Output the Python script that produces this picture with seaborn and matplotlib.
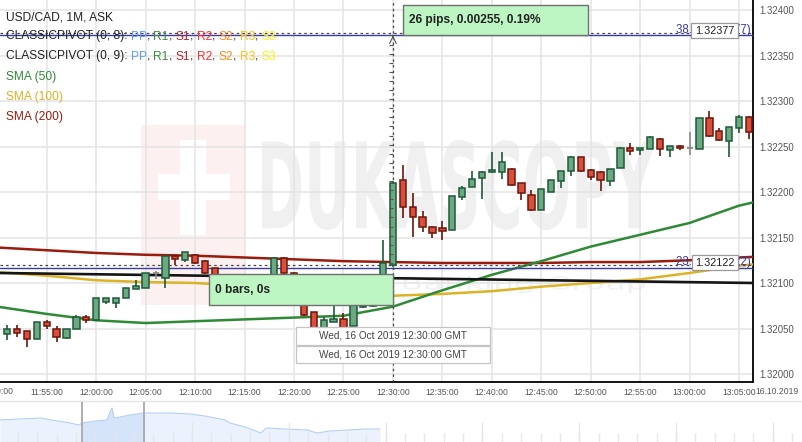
import numpy as np
import pandas as pd
import matplotlib
matplotlib.use("Agg")
import matplotlib.pyplot as plt
import seaborn as sns
from matplotlib.patches import Rectangle, PathPatch
from matplotlib.textpath import TextPath
from matplotlib.font_manager import FontProperties
from matplotlib.transforms import Affine2D

# ---------------- data ----------------
minutes = list(range(-9, 67))  # minutes relative to 12:00 GMT
opens = [1.32044, 1.32050, 1.32047, 1.32038, 1.32057, 1.32049, 1.32040, 1.32049, 1.32063,
         1.32059, 1.32079, 1.32078, 1.32083, 1.32093, 1.32095, 1.32111, 1.32105, 1.32130, 1.32125,
         1.32131, 1.32124, 1.32116, 1.32101, 1.32090, 1.32083, 1.32089, 1.32096, 1.32103, 1.32128,
         1.32111, 1.32081, 1.32068, 1.32048, 1.32057, 1.32060, 1.32053, 1.32074, 1.32075, 1.32090,
         1.32120, 1.32213, 1.32184, 1.32173, 1.32161, 1.32160, 1.32158, 1.32195, 1.32206, 1.32215,
         1.32222, 1.32222, 1.32225, 1.32210, 1.32197, 1.32180, 1.32200, 1.32212, 1.32223, 1.32238,
         1.32224, 1.32222, 1.32212, 1.32226, 1.32248, 1.32246, 1.32247, 1.32258, 1.32246, 1.32251,
         1.32248, 1.32247, 1.32281, 1.32267, 1.32256, 1.32270, 1.32282]
highs = [1.32054, 1.32054, 1.32047, 1.32057, 1.32059, 1.32053, 1.32050, 1.32065, 1.32065,
         1.32083, 1.32083, 1.32084, 1.32094, 1.32103, 1.32111, 1.32113, 1.32130, 1.32131, 1.32134,
         1.32132, 1.32125, 1.32117, 1.32104, 1.32093, 1.32092, 1.32098, 1.32106, 1.32129, 1.32129,
         1.32112, 1.32082, 1.32068, 1.32063, 1.32078, 1.32067, 1.32082, 1.32078, 1.32092, 1.32147,
         1.32212, 1.32230, 1.32199, 1.32179, 1.32163, 1.32168, 1.32196, 1.32207, 1.32223, 1.32223,
         1.32244, 1.32244, 1.32226, 1.32210, 1.32202, 1.32203, 1.32213, 1.32223, 1.32240, 1.32239,
         1.32225, 1.32223, 1.32225, 1.32249, 1.32254, 1.32248, 1.32262, 1.32259, 1.32251, 1.32252,
         1.32266, 1.32281, 1.32289, 1.32270, 1.32271, 1.32285, 1.32283]
lows = [1.32037, 1.32041, 1.32030, 1.32038, 1.32049, 1.32035, 1.32039, 1.32049, 1.32056,
        1.32059, 1.32077, 1.32072, 1.32083, 1.32093, 1.32094, 1.32104, 1.32095, 1.32120, 1.32123,
        1.32121, 1.32110, 1.32099, 1.32088, 1.32080, 1.32079, 1.32086, 1.32092, 1.32101, 1.32110,
        1.32080, 1.32064, 1.32050, 1.32048, 1.32057, 1.32050, 1.32053, 1.32072, 1.32074, 1.32089,
        1.32118, 1.32171, 1.32151, 1.32156, 1.32149, 1.32147, 1.32158, 1.32191, 1.32206, 1.32192,
        1.32221, 1.32214, 1.32207, 1.32191, 1.32179, 1.32180, 1.32200, 1.32204, 1.32218, 1.32222,
        1.32213, 1.32201, 1.32207, 1.32226, 1.32241, 1.32241, 1.32247, 1.32240, 1.32238, 1.32246,
        1.32241, 1.32247, 1.32260, 1.32256, 1.32238, 1.32265, 1.32258]
closes = [1.32050, 1.32045, 1.32038, 1.32057, 1.32053, 1.32041, 1.32050, 1.32063, 1.32059,
          1.32083, 1.32083, 1.32084, 1.32094, 1.32097, 1.32111, 1.32111, 1.32130, 1.32126, 1.32134,
          1.32122, 1.32111, 1.32101, 1.32090, 1.32083, 1.32089, 1.32096, 1.32102, 1.32128, 1.32111,
          1.32082, 1.32065, 1.32050, 1.32059, 1.32060, 1.32050, 1.32080, 1.32075, 1.32090, 1.32122,
          1.32210, 1.32183, 1.32172, 1.32161, 1.32155, 1.32157, 1.32196, 1.32204, 1.32214, 1.32222,
          1.32224, 1.32233, 1.32208, 1.32199, 1.32180, 1.32203, 1.32213, 1.32223, 1.32238, 1.32223,
          1.32217, 1.32213, 1.32225, 1.32248, 1.32245, 1.32248, 1.32260, 1.32247, 1.32251, 1.32248,
          1.32248, 1.32281, 1.32262, 1.32257, 1.32271, 1.32282, 1.32266]

sma_minutes = [-10, -5, 0, 5, 10, 15, 20, 25, 30, 35, 40, 45, 50, 55, 60, 65, 67]
sma50 = [1.32074, 1.32066, 1.32059, 1.32056, 1.32058, 1.32060, 1.32062, 1.32064, 1.32074,
         1.32092, 1.32109, 1.32124, 1.32140, 1.32153, 1.32166, 1.32185, 1.32190]
sma100 = [1.32112, 1.32108, 1.32103, 1.32101, 1.32100, 1.32097, 1.32093, 1.32090, 1.32086,
          1.32088, 1.32091, 1.32096, 1.32100, 1.32104, 1.32111, 1.32119, 1.32121]
sma200 = [1.32139, 1.32136, 1.32133, 1.32131, 1.32130, 1.32128, 1.32126, 1.32124, 1.32123,
          1.32122, 1.32122, 1.32122, 1.32123, 1.32123, 1.32125, 1.32128, 1.32129]
trend_minutes = [-9.8, 66.5]
trend_values = [1.32111, 1.32100]

measure_low, measure_high = 1.32122, 1.32377
cursor_minute = 30
fib_levels = [1.32373, 1.32117]
cross_levels = [1.32375, 1.32120]

y_ticks = [1.32000, 1.32050, 1.32100, 1.32150, 1.32200, 1.32250, 1.32300, 1.32350, 1.32400]
x_tick_minutes = [-10, -5, 0, 5, 10, 15, 20, 25, 30, 35, 40, 45, 50, 55, 60, 65]
x_tick_labels = ["11:50:00", "11:55:00", "12:00:00", "12:05:00", "12:10:00", "12:15:00", "12:20:00",
                 "12:25:00", "12:30:00", "12:35:00", "12:40:00", "12:45:00", "12:50:00",
                 "12:55:00", "13:00:00", "13:05:00"]

nav_x = [0, 20, 41, 51, 65, 79, 82, 95, 107, 110, 112, 114, 120, 130, 144, 148, 170, 190, 205,
         225, 230, 245, 261, 266, 285, 307, 317, 330, 348, 365, 380]
nav_level = [22, 23, 24, 22, 20, 17, 19, 21, 22, 30, 34, 24, 25, 27, 29, 29, 29, 28, 26,
             22, 19, 15, 9, 14, 13, 12, 9, 11, 12, 13, 13]

# ---------------- styling ----------------
sns.set_theme(style="white")
plt.rcParams['font.family'] = ['Liberation Sans', 'DejaVu Sans']

W, H = 803, 442
fig = plt.figure(figsize=(W / 100, H / 100), dpi=100)
fig.patch.set_facecolor('white')


def fx(px):
    return px / W


def fy(py):
    return 1 - py / H


ax = fig.add_axes([0, fy(382), fx(753), 382 / H])
ax.set_facecolor('white')
ax.set_xlim(-96.2 / 9.89, (753 - 96.2) / 9.89)
ax.set_ylim(1.32400 - 372 / 91000, 1.32400 + 10 / 91000)

for s in ['left', 'top']:
    ax.spines[s].set_visible(False)
for s in ['right', 'bottom']:
    ax.spines[s].set_color('black')
    ax.spines[s].set_linewidth(1.3)

ax.set_axisbelow(True)
ax.grid(True, color='#e4e4e4', lw=1.1)
ax.yaxis.tick_right()
ax.set_yticks(y_ticks)
ax.set_yticklabels([f"{v:.5f}" for v in y_ticks])
ax.tick_params(axis='y', length=0, pad=4.3, labelsize=6.9, labelcolor='#555555')
ax.set_xticks(x_tick_minutes[1:])
ax.set_xticklabels(x_tick_labels[1:])
ax.tick_params(axis='x', length=0, pad=4.0, labelsize=6.2, labelcolor='#555555')
ax.set_xlabel('')
ax.set_ylabel('')
ax.text(x_tick_minutes[0], -9 / 382, x_tick_labels[0], transform=ax.get_xaxis_transform(),
        ha='center', va='center', fontsize=6.2, color='#555555', clip_on=False)
fig.text(fx(755), fy(391), "16.10.2019", ha='left', va='center', fontsize=6.2, color='#555555')

# ---------------- watermark ----------------
ax.add_patch(Rectangle((fx(141), fy(305)), fx(104), 180 / H, transform=fig.transFigure,
                       facecolor='#fdf0f0', edgecolor='none', zorder=0.1))
ax.add_patch(Rectangle((fx(180), fy(235)), fx(26), 95 / H, transform=fig.transFigure,
                       facecolor='white', edgecolor='none', zorder=0.15))
ax.add_patch(Rectangle((fx(158), fy(200)), fx(72), 26 / H, transform=fig.transFigure,
                       facecolor='white', edgecolor='none', zorder=0.15))
fp = FontProperties(family='DejaVu Sans', weight='bold')
tp = TextPath((0, 0), "DUKASCOPY", size=100, prop=fp)
bb = tp.get_extents()
x0, x1, yb, yt = fx(262), fx(655), fy(230), fy(140)
tr = Affine2D().translate(-bb.x0, -bb.y0).scale((x1 - x0) / bb.width, (yt - yb) / bb.height) \
    .translate(x0, yb) + fig.transFigure
ax.add_patch(PathPatch(tp, transform=tr, facecolor='#f0f0f0', edgecolor='none', zorder=0.2))
tp2 = TextPath((0, 0), "Swiss Banking Group", size=100, prop=FontProperties(family='DejaVu Sans'))
bb2 = tp2.get_extents()
x0, x1, yb, yt = fx(300), fx(645), fy(293), fy(276)
tr2 = Affine2D().translate(-bb2.x0, -bb2.y0).scale((x1 - x0) / bb2.width, (yt - yb) / bb2.height) \
    .translate(x0, yb) + fig.transFigure
ax.add_patch(PathPatch(tp2, transform=tr2, facecolor='#f1f1f1', edgecolor='none', zorder=0.2))

# ---------------- indicator lines ----------------
sns.lineplot(x=sma_minutes, y=sma200, ax=ax, color='#9a1c0e', lw=1.8, zorder=3, legend=False)
sns.lineplot(x=sma_minutes, y=sma100, ax=ax, color='#dcb226', lw=1.8, zorder=3, legend=False)
sns.lineplot(x=sma_minutes, y=sma50, ax=ax, color='#2f8a35', lw=1.8, zorder=3, legend=False)
sns.lineplot(x=trend_minutes, y=trend_values, ax=ax, color='#151515', lw=1.9, zorder=3.2,
             legend=False)
for v in fib_levels:
    ax.axhline(v, color='#3a3aa8', lw=1.0, zorder=3.5)
for v in cross_levels:
    ax.axhline(v, color='#444444', lw=0.9, ls=(0, (2, 2.5)), zorder=3.6)
ax.axvline(cursor_minute, color='#444444', lw=0.9, ls=(0, (2, 2.5)), zorder=3.6)

# ---------------- candles ----------------
df = pd.DataFrame({'minute': minutes, 'open': opens, 'high': highs, 'low': lows, 'close': closes})
up = df[df.close > df.open]
dn = df[df.close < df.open]
dj = df[df.close == df.open]
up_fill, up_edge = '#6ba983', '#1f5a38'
dn_fill, dn_edge = '#d8503b', '#6e150b'
bw = 0.64
ax.vlines(up.minute, up.low, up.high, color=up_edge, lw=1.2, zorder=5)
ax.vlines(dn.minute, dn.low, dn.high, color=dn_edge, lw=1.2, zorder=5)
ax.bar(up.minute, up.close - up.open, bottom=up.open, width=bw, color=up_fill,
       edgecolor=up_edge, lw=1.1, zorder=6)
ax.bar(dn.minute, dn.open - dn.close, bottom=dn.close, width=bw, color=dn_fill,
       edgecolor=dn_edge, lw=1.1, zorder=6)
ax.vlines(dj.minute, dj.low, dj.high, color='#8a8a8a', lw=1.2, zorder=5)
ax.hlines(dj.close, dj.minute - 0.3, dj.minute + 0.3, color='#8a8a8a', lw=1.3, zorder=5)

# ruler along the measurement
ax.hlines(np.arange(measure_low, measure_high, 0.0001), cursor_minute - 0.42, cursor_minute,
          color='#555555', lw=0.8, zorder=7)
ax.annotate('', xy=(cursor_minute, cross_levels[0]), xytext=(cursor_minute, cross_levels[0] - 0.00008),
            arrowprops=dict(arrowstyle='->', color='#555555', lw=0.8), zorder=7)


# ---------------- overlays ----------------
def box(x0p, y0p, x1p, y1p, face, edge, z=4, lw=1.0):
    fig.add_artist(Rectangle((fx(x0p), fy(y1p)), fx(x1p - x0p), (y1p - y0p) / H,
                             transform=fig.transFigure, facecolor=face, edgecolor=edge,
                             lw=lw, zorder=z))


box(403, 5, 588, 35, '#bdf5c3', '#707070')
fig.text(fx(409), fy(20.5), f"{round((measure_high - measure_low) * 1e4 + 0.5):d} pips, "
         f"{measure_high - measure_low:.5f}, {(measure_high - measure_low) / measure_low * 100:.2f}%",
         ha='left', va='center', fontsize=8.6, fontweight='bold', color='#222222', zorder=5)
box(209, 274, 393, 305, '#bdf5c3', '#707070')
fig.text(fx(215), fy(290), "0 bars, 0s", ha='left', va='center', fontsize=8.6,
         fontweight='bold', color='#222222', zorder=5)

for yy in [(327, 345), (346, 363)]:
    box(296, yy[0], 490, yy[1], 'white', '#c4c4c4', lw=0.9)
    fig.text(fx(393), fy((yy[0] + yy[1]) / 2), "Wed, 16 Oct 2019 12:30:00 GMT", ha='center',
             va='center', fontsize=7.2, color='#444444', zorder=5)

fig.text(fx(751), fy(32.5), "38.2 (1.32377)", ha='right', va='baseline', fontsize=8.3,
         color='#3a3aa8', zorder=3)
box(691, 23, 738, 38, 'white', '#9a9a9a', z=4, lw=0.9)
fig.text(fx(714.5), fy(30.8), f"{measure_high:.5f}", ha='center', va='center', fontsize=7.8,
         color='#222222', zorder=5)
fig.text(fx(751), fy(265), "23.6 (1.32122)", ha='right', va='baseline', fontsize=8.3,
         color='#3a3aa8', zorder=3)
box(692, 255, 738, 270, 'white', '#9a9a9a', z=4, lw=0.9)
fig.text(fx(715), fy(262.5), f"{measure_low:.5f}", ha='center', va='center', fontsize=7.8,
         color='#222222', zorder=5)

# ---------------- legend ----------------
leg_fs = 8.64
black = '#222222'
pivot_cols = ['#5c9cff', '#3d8c3d', '#b3282d', '#ff3030', '#ff8a1c', '#ffc20e', '#ffee10']
pivot_names = ['PP', 'R1', 'S1', 'R2', 'S2', 'R3', 'S3']


def seg_row(base_py, segments):
    prev = fig.text(fx(5.7), fy(base_py), segments[0][0], color=segments[0][1], fontsize=leg_fs,
                    ha='left', va='baseline', zorder=6)
    for s, c in segments[1:]:
        prev = ax.annotate(s, xy=(1, 0), xycoords=prev, ha='left', va='bottom', color=c,
                           fontsize=leg_fs, annotation_clip=False, zorder=6)


seg_row(20, [("USD/CAD, 1M, ASK", black)])
for i, base in zip([8, 9], [39.5, 59.5]):
    segs = [(f"CLASSICPIVOT (0, {i}): ", black)]
    for k, (n, c) in enumerate(zip(pivot_names, pivot_cols)):
        segs.append((n, c))
        if k < len(pivot_names) - 1:
            segs.append((", ", black))
    seg_row(base, segs)
seg_row(80, [("SMA (50)", '#2f8a35')])
seg_row(100, [("SMA (100)", '#dcb226')])
seg_row(120, [("SMA (200)", '#9a1c0e')])

# ---------------- navigator ----------------
nav = fig.add_axes([0, 0, 1, 60 / H])
nav.set_xlim(0, W)
nav.set_ylim(0, 60)
nav.axis('off')
nav.patch.set_alpha(0)
nav.axhline(41, color='#e4e4e4', lw=1.0)
nx = np.array(nav_x, dtype=float)
nl = np.array(nav_level, dtype=float)
nav.fill_between(nx, 0, nl, color='#ebf2fd', lw=0)
sel = (nx >= 82) & (nx <= 144)
nav.fill_between(nx, 0, nl, where=sel, color='#d6e4f9', lw=0)
nav.plot(nx, nl, color='#b5cef3', lw=0.8)
for xv in np.arange(17.8, W, 19.36):
    nav.vlines(xv, 0, 9, color='#e6e6e6', lw=1.0)
for xv in np.arange(17.8 + 9 * 19.36, W, 5 * 19.36):
    nav.vlines(xv, 0, 20, color='#e6e6e6', lw=1.0)
nav.vlines([82, 144], 0, 40, color='#a8a8a8', lw=1.3)

fig.savefig("out.png", dpi=100)
